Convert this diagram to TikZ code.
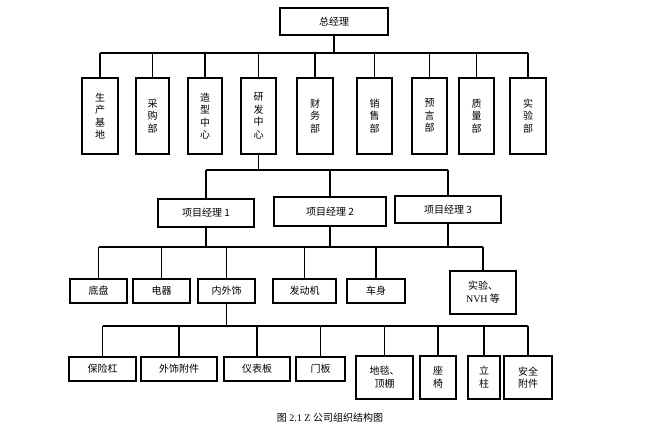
\documentclass[tikz,border=0pt]{standalone}
\usepackage{fontspec}
\setmainfont{Liberation Serif}
\newfontfamily\cjk{Noto Sans CJK SC}
\begin{document}
\begin{tikzpicture}[x=1pt,y=1pt,
  box/.style={draw,line width=1.8pt,inner sep=0pt,font=\cjk\fontsize{10}{12.5}\selectfont,align=center},
  ln/.style={line width=1.8pt}]
\useasboundingbox (0,0) rectangle (669,-435);
% level 0
\node[box,minimum width=108,minimum height=27] (zjl) at (334,-21.5) {总经理};
% level 1
\foreach \n/\xa/\xb/\t in {a/82/118/{生\\产\\基\\地},b/136/169/{采\\购\\部},c/188/222/{造\\型\\中\\心},d/241/276/{研\\发\\中\\心},e/297/333/{财\\务\\部},f/357/392/{销\\售\\部},g/412/447/{预\\言\\部},h/459/494/{质\\量\\部},i/510/546/{实\\验\\部}}{
  \node[box,minimum width={\xb-\xa},minimum height=76,anchor=north] (\n) at ({(\xa+\xb)/2},-77) {\t};
}
\coordinate (b1l) at (a.north |- 0,-53);
\coordinate (b1r) at (i.north |- 0,-53);
\draw[ln] (b1l) -- (b1r);
\draw[ln] (zjl.south) -- (zjl.south |- b1l);
\foreach \n in {a,b,c,d,e,f,g,h,i}{\draw[ln] (\n.north) -- (\n.north |- b1l);}
% level 2
\node[box,minimum width=96,minimum height=28] (p1) at (206,-213) {项目经理 1};
\node[box,minimum width=112,minimum height=29] (p2) at (330,-211.5) {项目经理 2};
\node[box,minimum width=106,minimum height=27] (p3) at (448,-209.5) {项目经理 3};
\coordinate (b2l) at (p1.north |- 0,-170);
\coordinate (b2r) at (p3.north |- 0,-170);
\draw[ln] (b2l) -- (b2r);
\draw[ln] (d.south) -- (d.south |- b2l);
\foreach \n in {p1,p2,p3}{\draw[ln] (\n.north) -- (\n.north |- b2l);}
% level 3
\foreach \n/\xa/\xb/\t in {q1/70/127/底盘,q2/133/190/电器,q3/198/255/内外饰,q4/273/336/发动机,q5/347/405/车身}{
  \node[box,minimum width={\xb-\xa},minimum height=24,anchor=north] (\n) at ({(\xa+\xb)/2},-278) {\t};
}
\node[box,minimum width=66,minimum height=43,anchor=north] (q6) at (483,-270) {实验、\\{\fontspec{Liberation Serif}NVH} 等};
\coordinate (b3l) at (q1.north |- 0,-247);
\coordinate (b3r) at (q6.north |- 0,-247);
\draw[ln] (b3l) -- (b3r);
\draw[ln] (p1.south) -- (p1.south |- b3l);
\draw[ln] (p2.south) -- (p2.south |- b3l);
\draw[ln] (p3.south) -- (p3.south |- b3l);
\foreach \n in {q1,q2,q3,q4,q5,q6}{\draw[ln] (\n.north) -- (\n.north |- b3l);}
% level 4
\foreach \n/\xa/\xb/\t in {r1/69/136/保险杠,r2/141/217/外饰附件,r3/224/290/仪表板,r4/296/345/门板}{
  \node[box,minimum width={\xb-\xa},minimum height=24,anchor=north] (\n) at ({(\xa+\xb)/2},-356) {\t};
}
\foreach \n/\xa/\xb/\t in {r5/356/413/{地毯、\\顶棚},r6/420/456/{座\\椅},r7/468/500/{立\\柱},r8/504/552/{安全\\附件}}{
  \node[box,minimum width={\xb-\xa},minimum height=43,anchor=north] (\n) at ({(\xa+\xb)/2},-355) {\t};
}
\coordinate (b4l) at (r1.north |- 0,-326);
\coordinate (b4r) at (r8.north |- 0,-326);
\draw[ln] (b4l) -- (b4r);
\draw[ln] (q3.south) -- (q3.south |- b4l);
\foreach \n in {r1,r2,r3,r4,r5,r6,r7,r8}{\draw[ln] (\n.north) -- (\n.north |- b4l);}
% caption
\node[font=\fontsize{10}{12}\selectfont] (cap) at (330,-418) {{\cjk 图} 2.1 Z {\cjk 公司组织结构图}};
\end{tikzpicture}
\end{document}
